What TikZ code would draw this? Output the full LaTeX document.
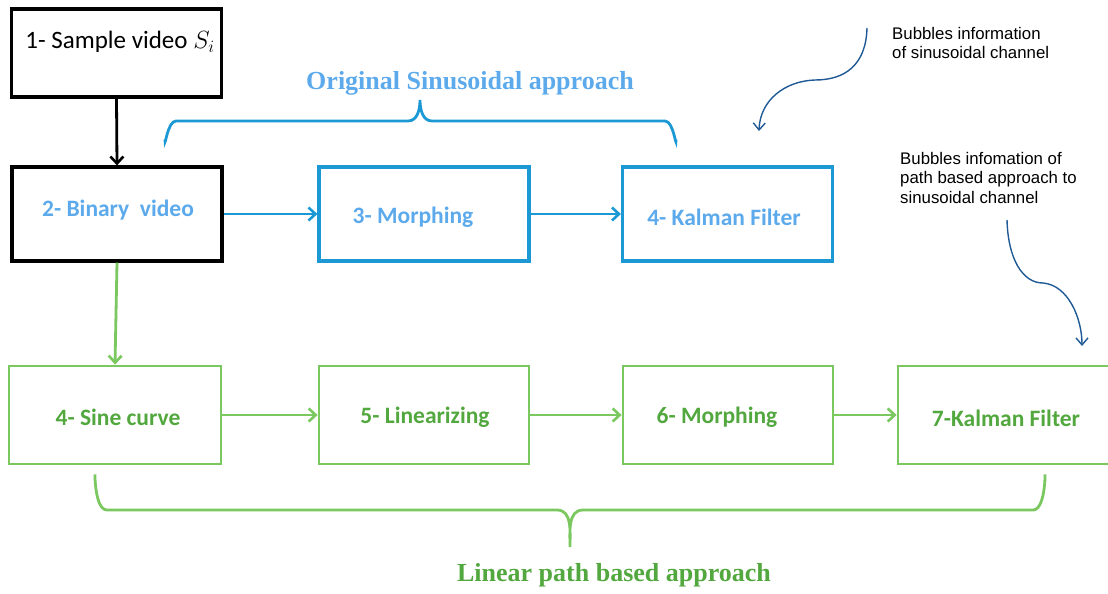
\documentclass[tikz,border=0pt]{standalone}
\usepackage{fontspec}
\setmainfont{Carlito}
\newfontfamily\notefont{Liberation Sans}
\newfontfamily\headfont{Liberation Serif}
\usetikzlibrary{arrows.meta}
\definecolor{inkblue}{RGB}{28,152,212}
\definecolor{txtblue}{RGB}{92,170,235}
\definecolor{boxgreen}{RGB}{122,200,95}
\definecolor{txtgreen}{RGB}{82,168,62}
\definecolor{curveblue}{RGB}{32,90,150}
\begin{document}
\begin{tikzpicture}[x=1pt,y=-1pt,
  stepbox/.style={draw, line width=3.2pt, inner sep=0pt, minimum height=94pt, minimum width=210pt},
  blackbox/.style={stepbox, draw=black},
  bluebox/.style={stepbox, draw=inkblue},
  greenbox/.style={stepbox, draw=boxgreen, line width=2.8pt, minimum height=98pt},
  boxtext/.style={font=\fontsize{23.5}{27}\selectfont\bfseries, inner sep=0pt},
  flow/.style={line width=2.8pt, -{Straight Barb[length=7pt,width=13pt,line width=2.6pt]}},
  brace/.style={line width=2.8pt, line cap=round},
  heading/.style={font=\headfont\fontsize{26}{30}\selectfont\bfseries, inner sep=0pt},
  note/.style={font=\notefont\fontsize{16.8}{19.6}\selectfont, align=left, inner sep=0pt, anchor=north west},
  callout/.style={draw=curveblue, line width=1.4pt, -{Straight Barb[length=7pt,width=12pt,line width=1.4pt]}}
]
\useasboundingbox (0,0) rectangle (1108,594);

% upper row
\node[blackbox, minimum height=88pt] (s1) at (116.5,53) {};
\node[blackbox] (s2) at (117,214) {};
\node[bluebox]  (s3) at (424,214) {};
\node[bluebox]  (s4) at (727.5,214) {};

% lower row
\node[greenbox, minimum width=212pt] (g1) at (115,415) {};
\node[greenbox] (g2) at (424,415) {};
\node[greenbox] (g3) at (728,415) {};
\node[greenbox, minimum width=222pt] (g4) at (1009,415) {};

% box captions
\node[inner sep=0pt, font=\fontsize{25}{28}\selectfont] (t1) at (120,42) {1- Sample video $S_i$};
\node[boxtext, text=txtblue] (t2) at (118,210) {2- Binary\ \ video};
\node[boxtext, text=txtblue] (t3) at (413,217) {3- Morphing};
\node[boxtext, text=txtblue] (t4) at (724,217) {4- Kalman Filter};
\node[boxtext, text=txtgreen] (t5) at (118,417) {4- Sine curve};
\node[boxtext, text=txtgreen] (t6) at (425,417) {5- Linearizing};
\node[boxtext, text=txtgreen] (t7) at (717,417) {6- Morphing};
\node[boxtext, text=txtgreen] (t8) at (1006,418) {7-Kalman Filter};

% connectors
\draw[flow, draw=black] (s1.south) -- (s2.north);
\draw[flow, draw=inkblue] (s2.east) -- (s3.west);
\draw[flow, draw=inkblue] (s3.east) -- (s4.west);
\draw[flow, draw=boxgreen] (s2.south) -- (g1.north);
\draw[flow, draw=boxgreen] (g1.east) -- (g2.west);
\draw[flow, draw=boxgreen] (g2.east) -- (g3.west);
\draw[flow, draw=boxgreen] (g3.east) -- (g4.west);

% braces
\draw[brace, draw=inkblue] (165,140) to[out=-90,in=180] (176,121) -- (408,121)
  to[out=0,in=-90] (420,100) to[out=-90,in=180] (432,121) -- (665,121)
  to[out=0,in=-90] (676,140);
\node[heading, text=txtblue] (h1) at (470,83) {Original Sinusoidal approach};

\draw[brace, draw=boxgreen] (95,477) to[out=90,in=180] (107,510) -- (557,510)
  to[out=0,in=90] (570,547) to[out=90,in=180] (583,510) -- (1033,510)
  to[out=0,in=90] (1045,477);
\node[heading, text=txtgreen] (h2) at (614,575) {Linear path based approach};

% side notes
\node[note] (n1) at (892,27) {Bubbles information\\of sinusoidal channel};
\node[note] (n2) at (900,152) {Bubbles infomation of\\path based approach to\\sinusoidal channel};
\coordinate (c1a) at (867,28);
\coordinate (c1b) at (759,131);
\coordinate (c2a) at (1007,220);
\coordinate (c2b) at (1082,346);
\draw[callout] (c1a) .. controls (866,65) and (845,80) .. (815,80)
  .. controls (785,81) and (760,100) .. (c1b);
\draw[callout] (c2a) .. controls (1008,258) and (1022,283) .. (1043,283)
  .. controls (1068,285) and (1082,318) .. (c2b);
\end{tikzpicture}
\end{document}
